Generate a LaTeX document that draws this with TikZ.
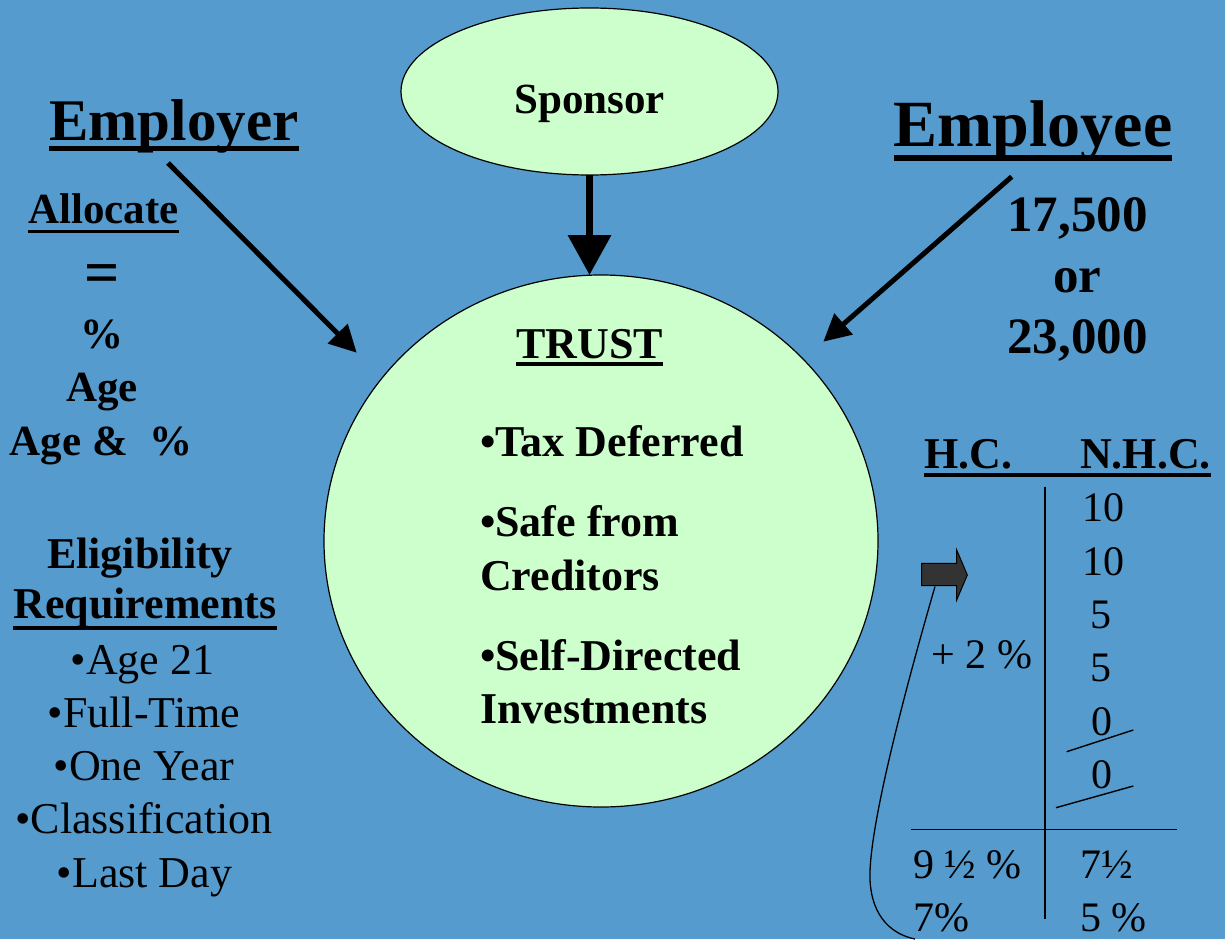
\documentclass[tikz,border=0pt]{standalone}
\usepackage{fontspec}
\setmainfont{Liberation Serif}
\usetikzlibrary{shapes.geometric,arrows.meta}
\definecolor{bgblue}{RGB}{85,155,205}
\definecolor{palegreen}{RGB}{204,255,204}
\definecolor{blkgray}{RGB}{51,51,51}
\newcommand\myfs[1]{\fontsize{#1pt}{#1pt}\selectfont}
\begin{document}
\begin{tikzpicture}[x=1pt,y=-1pt,
  tb/.style={inner sep=0pt, outer sep=0pt, anchor=base, font=\bfseries\myfs{#1}},
  tr/.style={inner sep=0pt, outer sep=0pt, anchor=base, font=\myfs{#1}},
  bubble/.style={ellipse, draw=black, line width=1.2pt, fill=palegreen, inner sep=0pt, outer sep=0pt},
  thinarrow/.style={line width=5pt, -{Triangle[length=27pt,width=27pt]}},
  thinline/.style={line width=1.4pt, draw=black}]
\useasboundingbox (0,0) rectangle (1225,939);
\fill[bgblue] (0,0) rectangle (1225,939);

% ellipses
\node[bubble, minimum width=377pt, minimum height=167pt] (sponsor) at (589.5,91.5) {};
\node[bubble, minimum width=554pt, minimum height=532pt] (trust) at (601,541) {};
\node[tb=43] (sponsortxt) at (589.5,113.3) {Sponsor};

% sponsor arrow
\draw[line width=7pt, -{Triangle[length=40pt,width=42pt]}] (sponsor.south) -- (sponsor.south |- trust.north);

% Employer side
\node[tb=59] (employer) at (174,140) {Employer};
\draw[line width=5pt] ([yshift=-8.3pt]employer.base west) -- ([yshift=-8.3pt]employer.base east);
\coordinate (ea1) at (168,163);
\coordinate (ea2) at (356.7,352.7);
\draw[thinarrow] (ea1) -- (ea2);

\node[tb=43] (allocate) at (103.5,223) {Allocate};
\draw[line width=3.5pt] ([yshift=-8.5pt]allocate.base west) -- ([yshift=-8.5pt]allocate.base east);
\node[tb=62] (eq) at (102,293) {=};
\node[tb=43] (pct) at (102,348) {\%};
\node[tb=43] (age) at (102,401.7) {Age};
\node[tb=43] (agepct) at (101,455) {Age \&\ \ \%};

\node[tb=44] (elig) at (140,568) {Eligibility};
\node[tb=44] (req) at (145,618) {Requirements};
\draw[line width=3.5pt] ([yshift=-10pt]req.base west) -- ([yshift=-10pt]req.base east);
\node[tr=44] (r1) at (142.5,674) {•Age 21};
\node[tr=44] (r2) at (144,727) {•Full-Time};
\node[tr=44] (r3) at (144,780) {•One Year};
\node[tr=44] (r4) at (144,833) {•Classification};
\node[tr=44] (r5) at (144.5,887) {•Last Day};

% Trust text
\node[tb=44] (trusttxt) at (589.5,358.3) {TRUST};
\draw[line width=4pt] ([yshift=-5.7pt]trusttxt.base west) -- ([yshift=-5.7pt]trusttxt.base east);
\node[tb=44, anchor=base west] (t1) at (480,456.7) {•Tax Deferred};
\node[tb=44, anchor=base west] (t2) at (480,536.7) {•Safe from};
\node[tb=44, anchor=base west] (t3) at (480,590) {Creditors};
\node[tb=44, anchor=base west] (t4) at (480,670) {•Self-Directed};
\node[tb=44, anchor=base west] (t5) at (480,723.3) {Investments};

% Employee side
\node[tb=66] (employee) at (1033,146.7) {Employee};
\draw[line width=6pt] ([yshift=-11pt]employee.base west) -- ([yshift=-11pt]employee.base east);
\coordinate (eb1) at (1011.7,176.7);
\coordinate (eb2) at (823.3,341.7);
\draw[thinarrow] (eb1) -- (eb2);
\node[tb=51] (n1) at (1077.5,231.7) {17,500};
\node[tb=51] (n2) at (1077.5,292.7) {or};
\node[tb=51] (n3) at (1077.5,353.3) {23,000};

% table
\node[tb=44, anchor=base west] (hc) at (924,468.3) {H.C.};
\node[tb=44, anchor=base west] (nhc) at (1080,468.3) {N.H.C.};
\draw[line width=4pt] ([yshift=-7pt]hc.base west) -- ([yshift=-7pt]nhc.base east);
\coordinate (vtop) at (1045,486.7);
\coordinate (vbot) at (1045,919);
\draw[thinline] (vtop) -- (vbot);
\coordinate (hl) at (911,829.3);
\coordinate (hr) at (1177.3,829.3);
\draw[thinline] (hl) -- (hr);

\node[tr=42] (c1) at (1103,521.7) {10};
\node[tr=42] (c2) at (1103,575) {10};
\node[tr=42] (c3) at (1101,628.3) {5};
\node[tr=42] (c4) at (1101,681.7) {5};
\node[tr=42] (c5) at (1102,735) {0};
\node[tr=42] (c6) at (1102,788.3) {0};
\coordinate (s1a) at (1066.7,751.7);
\coordinate (s1b) at (1133.3,730);
\coordinate (s2a) at (1056,807.7);
\coordinate (s2b) at (1133.3,786);
\draw[thinline] (s1a) -- (s1b);
\draw[thinline] (s2a) -- (s2b);

\node[tr=42] (plus) at (981.7,668.3) {+ 2 \%};
\node[tr=42, anchor=base west] (b1) at (913,878.3) {9 ½ \%};
\node[tr=42, anchor=base west] (b2) at (1080,878.3) {7½};
\node[tr=42, anchor=base west] (b3) at (913,931.7) {7\%};
\node[tr=42, anchor=base west] (b4) at (1080,931.7) {5 \%};

% block arrow and curve
\draw[fill=blkgray, line width=1pt, line join=miter] (921.7,563.3) -- (956.7,563.3) -- (956.7,550) -- (967.3,575) -- (956.7,600) -- (956.7,585.7) -- (921.7,585.7) -- cycle;
\coordinate (cstart) at (935,586.5);
\coordinate (cend) at (915,939);
\draw[line width=1.3pt] (cstart) .. controls (905,690) and (868,830) .. (870,880) .. controls (872,920) and (895,935) .. (cend);
\end{tikzpicture}
\end{document}
